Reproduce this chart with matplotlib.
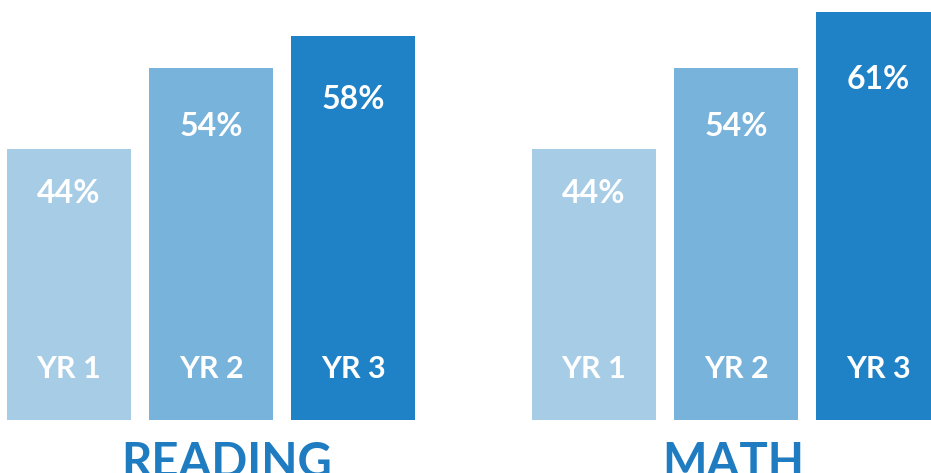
import matplotlib
matplotlib.use("Agg")
import matplotlib.pyplot as plt

subjects = ["READING", "MATH"]
years = ["YR 1", "YR 2", "YR 3"]
reading = [44, 54, 58]
math_vals = [44, 54, 61]
colors = ["#a7cce6", "#78b3db", "#2082c6"]
title_color = "#1f7cc1"

fig = plt.figure(figsize=(9.31, 4.73), dpi=100)
ax = fig.add_axes([0, 53 / 473, 1, 420 / 473])
ax.set_axis_off()

group_offsets = [0.0, 3.697]
width = 0.873
base = 10.3
fam = ["Lato", "DejaVu Sans"]

for g, (subj, vals) in enumerate(zip(subjects, [reading, math_vals])):
    xs = [group_offsets[g] + i for i in range(len(vals))]
    ax.bar(xs, [v - base for v in vals], bottom=base, width=width,
           color=colors, edgecolor="none")
    for x, v, yr in zip(xs, vals, years):
        ax.text(x, base + 0.835 * (v - base), f"{v}%",
                ha="center", va="center", color="white", fontsize=23,
                fontweight="bold", family=fam)
        ax.annotate(yr, xy=(x, base), xytext=(0, 37), textcoords="offset points",
                    ha="center", va="center", color="white", fontsize=22,
                    fontweight="bold", family=fam)

title_x = [1.113, group_offsets[1] + 0.98]
for subj, tx in zip(subjects, title_x):
    ax.annotate(subj, xy=(tx, base), xytext=(0, -15), textcoords="offset points",
                ha="center", va="top", color=title_color, fontsize=34,
                fontweight="bold", family=fam, annotation_clip=False)

ax.set_xlim(-69 / 142, (931 - 69) / 142)
ax.set_ylim(base, base + 420 / 8.045)

fig.savefig("out.png", dpi=100)
